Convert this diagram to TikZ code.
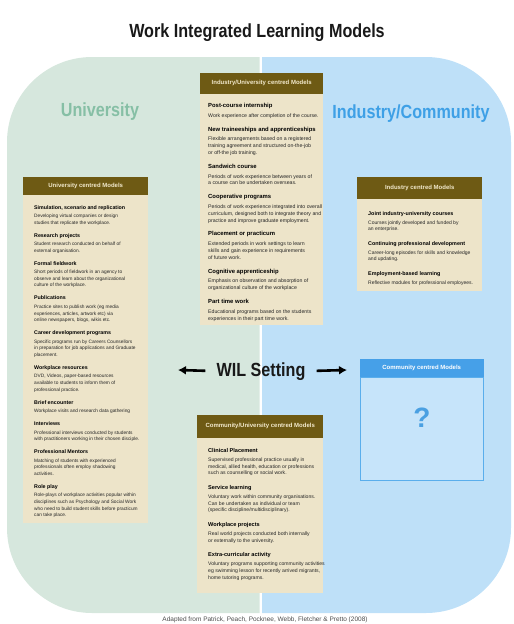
\documentclass[tikz,border=0pt]{standalone}
\usepackage{fontspec}
\setmainfont{Liberation Sans}
\newfontfamily\narrowsans[FakeStretch=0.85]{Liberation Sans}
\usetikzlibrary{arrows.meta,positioning}
\definecolor{uniGreen}{RGB}{214,231,221}
\definecolor{indBlue}{RGB}{190,224,248}
\definecolor{uniTitle}{RGB}{134,191,165}
\definecolor{indTitle}{RGB}{62,160,230}
\definecolor{headBrown}{RGB}{110,90,20}
\definecolor{headCream}{RGB}{242,233,204}
\definecolor{bodyBeige}{RGB}{237,228,201}
\definecolor{comHead}{RGB}{70,160,232}
\definecolor{comBody}{RGB}{198,228,250}
\definecolor{comLine}{RGB}{90,174,236}
\definecolor{quest}{RGB}{74,160,226}

\newcommand{\mheadsize}{5.8}
\newcommand{\mhead}[1]{{\bfseries\color{black}\fontsize{\mheadsize}{6}\selectfont #1}}

\tikzset{
  bigtitle/.style={font=\narrowsans\bfseries\fontsize{19}{22}\selectfont, inner sep=0, anchor=base},
  modelhead/.style={fill=headBrown, text=headCream, font=\bfseries\fontsize{6}{7}\selectfont, inner sep=0, anchor=south west},
  modelbody/.style={fill=bodyBeige, inner sep=0, anchor=north west},
  modeltext/.style={anchor=north west, align=left, inner sep=0, text=black!85},
  headsize/.code={\renewcommand{\mheadsize}{#1}},
  wilarrow/.style={line width=2.6pt, -{Latex[length=8pt,width=9pt]}, shorten <=11pt},
}

\begin{document}
\begin{tikzpicture}[x=1pt, y=-1pt]
\useasboundingbox (0,0) rectangle (514,624);
\clip (0,0) rectangle (514,624);

% Draw background halves
\begin{scope}
  \clip (0,0) rectangle (259.5,624);
  \fill[uniGreen, rounded corners=85pt] (7,57) rectangle (530,613);
\end{scope}
\begin{scope}
  \clip (262,0) rectangle (514,624);
  \fill[indBlue, rounded corners=85pt] (-10,57) rectangle (511,613);
\end{scope}

% Titles
\node[bigtitle, text=black!90] (title) at (257,37) {Work Integrated Learning Models};
\node[bigtitle, text=uniTitle] (uni) at (100,116) {University};
\node[bigtitle, text=indTitle] (ind) at (411,118) {Industry/Community};
\node[bigtitle, text=black!90] (wil) at (261,376) {WIL Setting};

% WIL arrows
\coordinate (leftend) at (178,370);
\coordinate (rightend) at (347,370);
\draw[wilarrow] (wil.west) -- (leftend);
\draw[wilarrow] (wil.east) -- (rightend);

% University centred models
\node[modelbody, minimum width=125, minimum height=328] (unibody) at (23,195) {};
\node[modelhead, minimum width=125, minimum height=18] (unihead) at (unibody.north west) {University centred Models};
\node[modeltext, headsize=5.3, font=\fontsize{4.8}{6.6}\selectfont] (unitext) at ([xshift=11pt,yshift=-10pt]unibody.north west) {
\mhead{Simulation, scenario and replication}\\[1.9pt]
Developing virtual companies or design\\
studies that replicate the workplace.\\[6.4pt]
\mhead{Research projects}\\[1.9pt]
Student research conducted on behalf of\\
external organisation.\\[6.4pt]
\mhead{Formal fieldwork}\\[1.9pt]
Short periods of fieldwork in an agency to\\
observe and learn about the organizational\\
culture of the workplace.\\[6.4pt]
\mhead{Publications}\\[1.9pt]
Practice sites to publish work (eg media\\
experiences, articles, artwork etc) via\\
online newspapers, blogs, wikis etc.\\[6.4pt]
\mhead{Career development programs}\\[1.9pt]
Specific programs run by Careers Counsellors\\
in preparation for job applications and Graduate\\
placement.\\[6.4pt]
\mhead{Workplace resources}\\[1.9pt]
DVD, Videos, paper-based resources\\
available to students to inform them of\\
professional practice.\\[6.4pt]
\mhead{Brief encounter}\\[1.9pt]
Workplace visits and research data gathering\\[6.4pt]
\mhead{Interviews}\\[1.9pt]
Professional interviews conducted by students\\
with practitioners working in their chosen disciple.\\[6.4pt]
\mhead{Professional Mentors}\\[1.9pt]
Matching of students with experienced\\
professionals often employ shadowing\\
activities.\\[6.4pt]
\mhead{Role play}\\[1.9pt]
Role-plays of workplace activities popular within\\
disciplines such as Psychology and Social Work\\
who need to build student skills before practicum\\
can take place.};

% Industry/University centred models
\node[modelbody, minimum width=123, minimum height=231] (iubody) at (200,94) {};
\node[modelhead, minimum width=123, minimum height=21] (iuhead) at (iubody.north west) {Industry/University centred Models};
\node[modeltext, headsize=5.9, font=\fontsize{5.2}{6.8}\selectfont] (iutext) at ([xshift=8pt,yshift=-9pt]iubody.north west) {
\mhead{Post-course internship}\\[3pt]
Work experience after completion of the course.\\[7pt]
\mhead{New traineeships and apprenticeships}\\[3pt]
Flexible arrangements based on a registered\\
training agreement and structured on-the-job\\
or off-the job training.\\[7pt]
\mhead{Sandwich course}\\[3pt]
Periods of work experience between years of\\
a course can be undertaken overseas.\\[7pt]
\mhead{Cooperative programs}\\[3pt]
Periods of work experience integrated into overall\\
curriculum, designed both to integrate theory and\\
practice and improve graduate employment.\\[7pt]
\mhead{Placement or practicum}\\[3pt]
Extended periods in work settings to learn\\
skills and gain experience in requirements\\
of future work.\\[7pt]
\mhead{Cognitive apprenticeship}\\[3pt]
Emphasis on observation and absorption of\\
organizational culture of the workplace\\[7pt]
\mhead{Part time work}\\[3pt]
Educational programs based on the students\\
experiences in their part time work.};

% Industry centred models
\node[modelbody, minimum width=125, minimum height=92] (indbody) at (357,199) {};
\node[modelhead, minimum width=125, minimum height=22] (indhead) at (indbody.north west) {Industry centred Models};
\node[modeltext, headsize=5.4, font=\fontsize{5}{6.6}\selectfont] (indtext) at ([xshift=11pt,yshift=-12pt]indbody.north west) {
\mhead{Joint industry-university courses}\\[2.4pt]
Courses jointly developed and funded by\\
an enterprise.\\[7.8pt]
\mhead{Continuing professional development}\\[2.4pt]
Career-long episodes for skills and knowledge\\
and updating.\\[7.8pt]
\mhead{Employment-based learning}\\[2.4pt]
Reflective modules for professional employees.};

% Community/University centred models
\node[modelbody, minimum width=126, minimum height=155] (cubody) at (197,438) {};
\node[modelhead, minimum width=126, minimum height=23] (cuhead) at (cubody.north west) {Community/University centred Models};
\node[modeltext, headsize=5.6, font=\fontsize{5.1}{6.8}\selectfont] (cutext) at ([xshift=11pt,yshift=-10pt]cubody.north west) {
\mhead{Clinical Placement}\\[2.2pt]
Supervised professional practice usually in\\
medical, allied health, education or professions\\
such as counselling or social work.\\[7.7pt]
\mhead{Service learning}\\[2.2pt]
Voluntary work within community organisations.\\
Can be undertaken as individual or team\\
(specific discipline/multidisciplinary).\\[7.7pt]
\mhead{Workplace projects}\\[2.2pt]
Real world projects conducted both internally\\
or externally to the university.\\[7.7pt]
\mhead{Extra-curricular activity}\\[2.2pt]
Voluntary programs supporting community activities\\
eg swimming lesson for recently arrived migrants,\\
home tutoring programs.};

% Community centred models
\node[modelbody, fill=comBody, draw=comLine, line width=0.8pt, minimum width=123, minimum height=103] (combody) at (360,377) {};
\node[modelhead, fill=comHead, text=white, minimum width=124, minimum height=18] (comhead) at ([xshift=-0.5pt]combody.north west) {Community centred Models};
\node[font=\bfseries\fontsize{28}{30}\selectfont, text=quest, inner sep=0] (quest) at ([yshift=11pt]combody.center) {?};

% Source line
\node[font=\fontsize{6.5}{7}\selectfont, text=black!70, anchor=base, inner sep=0] (source) at (265,621.5) {Adapted from Patrick, Peach, Pocknee, Webb, Fletcher \& Pretto (2008)};
\end{tikzpicture}
\end{document}
